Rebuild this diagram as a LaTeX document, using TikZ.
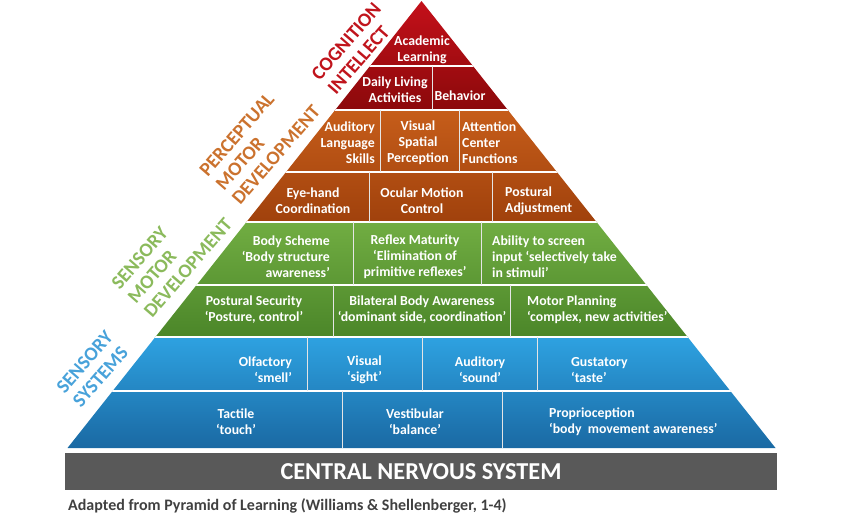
\documentclass[tikz,border=0pt]{standalone}
\usepackage{fontspec}
\setmainfont{Carlito}

\definecolor{redtop}{HTML}{C4101A}
\definecolor{redbot}{HTML}{8B090B}
\definecolor{orangetop}{HTML}{C65D1A}
\definecolor{orangebot}{HTML}{A0410C}
\definecolor{greentop}{HTML}{71AD42}
\definecolor{greenbot}{HTML}{4B8629}
\definecolor{bluetop}{HTML}{2EA2E1}
\definecolor{bluebot}{HTML}{1A69A3}
\definecolor{cnsgray}{HTML}{595959}
\definecolor{captiongray}{HTML}{404040}
\definecolor{cogred}{HTML}{C0141C}
\definecolor{percorange}{HTML}{CB722E}
\definecolor{sensgreen}{HTML}{8BBA5C}
\definecolor{sysblue}{HTML}{48A2DA}

\newcommand{\cellfont}{\fontsize{13.8}{16}\selectfont\bfseries}
\newcommand{\sidefont}{\fontsize{19.5}{21.5}\selectfont\bfseries}
\newcommand{\cnsfont}{\fontsize{24.3}{28}\selectfont\bfseries}
\newcommand{\captionfont}{\fontsize{16}{18}\selectfont\bfseries}

\begin{document}
\begin{tikzpicture}[x=1pt,y=-1pt,
  cell/.style={text=white, font=\cellfont, inner sep=0pt, align=center},
  side/.style={font=\sidefont, inner sep=0pt, rotate=49, anchor=north west, align=left},
  divider/.style={white, line width=1.6pt},
  splitter/.style={white!80!gray, line width=0.8pt}]
  \useasboundingbox (0,0) rectangle (843,525);
  % ---- pyramid bands ----
  \begin{scope}
    \clip (421.5,1) -- (775.5,448) -- (67.5,448) -- cycle;
    \shade[top color=redtop, bottom color=redbot] (60,0) rectangle (790,110);
    \shade[top color=orangetop, bottom color=orangebot] (60,110) rectangle (790,222);
    \shade[top color=greentop, bottom color=greenbot] (60,222) rectangle (790,337);
    \shade[top color=bluetop, bottom color=bluebot] (60,337) rectangle (790,448);
    \foreach \y in {66,110,172,222,285,337,391}
      \draw[divider] (60,\y) -- (790,\y);
    \foreach \x/\ya/\yb in {432/66/110, 380/110/172, 459/110/172, 369/172/222, 492/172/222,
        353/222/285, 481/222/285, 333/285/337, 510/285/337,
        307/337/391, 422/337/391, 537/337/391, 342/391/448, 502/391/448}
      \draw[splitter] (\x,\ya) -- (\x,\yb);
  \end{scope}
  % ---- cognition / intellect ----
  \node[cell] (academic) at (422,50) {Academic\\Learning};
  \node[cell] (dailyliving) at (395,90) {Daily Living\\Activities};
  \node[cell] (behavior) at (460,96) {Behavior};
  % ---- perceptual motor ----
  \node[cell, align=right, anchor=east] (auditorylang) at (375,143) {Auditory\\Language\\Skills};
  \node[cell] (visualspatial) at (418,143) {Visual\\Spatial\\Perception};
  \node[cell, align=left, anchor=west] (attention) at (462,143) {Attention\\Center\\Functions};
  \node[cell] (eyehand) at (313,201) {Eye-hand\\Coordination};
  \node[cell] (ocular) at (422,201) {Ocular Motion\\Control};
  \node[cell, align=left, anchor=west] (posturaladj) at (505,201) {Postural\\Adjustment};
  % ---- sensory motor ----
  \node[cell, align=right, anchor=east] (bodyscheme) at (330,257) {Body Scheme\\‘Body structure\\awareness’};
  \node[cell] (reflex) at (415,257) {Reflex Maturity\\‘Elimination of\\primitive reflexes’};
  \node[cell, align=left, anchor=west] (screen) at (492,257) {Ability to screen\\input ‘selectively take\\in stimuli’};
  \node[cell] (posturalsec) at (254,310) {Postural Security\\‘Posture, control’};
  \node[cell] (bilateral) at (422,310) {Bilateral Body Awareness\\‘dominant side, coordination’};
  \node[cell, align=left, anchor=west] (motorplan) at (527,310) {Motor Planning\\‘complex, new activities’};
  % ---- sensory systems ----
  \node[cell, align=right, anchor=east] (olfactory) at (292,370) {Olfactory\\‘smell’};
  \node[cell, align=left, anchor=west] (visual) at (347,370) {Visual\\‘sight’};
  \node[cell] (auditory) at (480,370) {Auditory\\‘sound’};
  \node[cell, align=left, anchor=west] (gustatory) at (571,370) {Gustatory\\‘taste’};
  \node[cell] (tactile) at (236,422) {Tactile\\‘touch’};
  \node[cell] (vestibular) at (415,422) {Vestibular\\‘balance’};
  \node[cell, align=left, anchor=west] (proprio) at (549,422) {Proprioception\\‘body~ movement awareness’};
  % ---- side labels ----
  \node[side, text=cogred] (cognition) at (310,73) {COGNITION\\INTELLECT};
  \node[side, text=percorange] (perceptual) at (198,169) {PERCEPTUAL\\MOTOR\\DEVELOPMENT};
  \node[side, text=sensgreen] (sensorymotor) at (110,282) {SENSORY\\MOTOR\\DEVELOPMENT};
  \node[side, text=sysblue] (sensorysys) at (55,386) {SENSORY\\SYSTEMS};
  % ---- base ----
  \fill[cnsgray] (65,453) rectangle (777,490);
  \node[text=white, font=\cnsfont, anchor=base] (cns) at (421,479) {CENTRAL NERVOUS SYSTEM};
  \node[text=captiongray, font=\captionfont, inner sep=0pt, anchor=base west] (caption) at (68,510) {Adapted from Pyramid of Learning (Williams \& Shellenberger, 1-4)};
\end{tikzpicture}
\end{document}
